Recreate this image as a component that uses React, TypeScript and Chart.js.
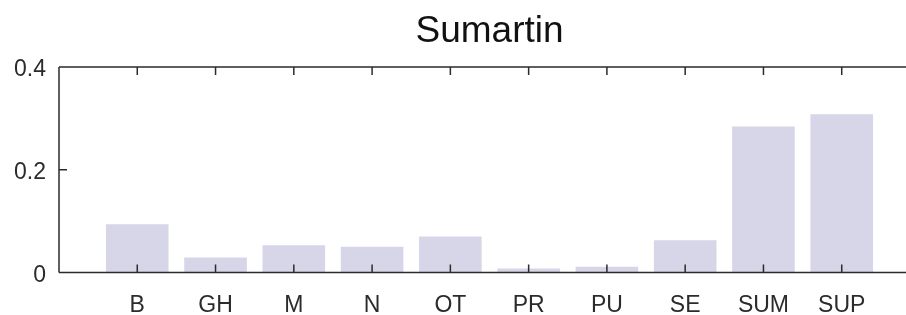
import React, { useEffect, useRef } from "react";
import { Chart, registerables } from "chart.js";

Chart.register(...registerables);

const categories = ["B", "GH", "M", "N", "OT", "PR", "PU", "SE", "SUM", "SUP"];
const values = [0.094, 0.029, 0.053, 0.050, 0.070, 0.008, 0.011, 0.063, 0.284, 0.308];
const yTicks = [0, 0.2, 0.4];
const titleText = "Sumartin";

const FONT = "'Liberation Sans', Arial, Helvetica, sans-serif";
const AXIS_COLOR = "#2b2b2b";
const BAR_COLOR = "#d7d5e8";

const axesPlugin = {
  id: "matlabAxes",
  afterDatasetsDraw(chart: any) {
    const { ctx, chartArea, scales } = chart;
    const x = scales.x;
    const y = scales.y;
    const tl = 8;
    ctx.save();
    ctx.strokeStyle = AXIS_COLOR;
    ctx.lineWidth = 1.5;
    ctx.beginPath();
    ctx.moveTo(chartArea.left, chartArea.top);
    ctx.lineTo(chartArea.left, chartArea.bottom);
    ctx.moveTo(chartArea.left, chartArea.bottom);
    ctx.lineTo(chartArea.right, chartArea.bottom);
    ctx.moveTo(chartArea.left, chartArea.top);
    ctx.lineTo(chartArea.right, chartArea.top);
    categories.forEach((_, i) => {
      const px = x.getPixelForValue(i + 1);
      ctx.moveTo(px, chartArea.bottom);
      ctx.lineTo(px, chartArea.bottom - tl);
      ctx.moveTo(px, chartArea.top);
      ctx.lineTo(px, chartArea.top + tl);
    });
    yTicks.forEach((v) => {
      const py = y.getPixelForValue(v);
      ctx.moveTo(chartArea.left, py);
      ctx.lineTo(chartArea.left + tl, py);
    });
    ctx.stroke();
    ctx.restore();
  },
};

export default function App() {
  const canvasRef = useRef<HTMLCanvasElement | null>(null);

  useEffect(() => {
    const canvas = canvasRef.current;
    if (!canvas) return;
    const chart = new Chart(canvas, {
      type: "bar",
      data: {
        datasets: [
          {
            data: values.map((v, i) => ({ x: i + 1, y: v })),
            backgroundColor: BAR_COLOR,
            borderWidth: 0,
            barPercentage: 0.8,
            categoryPercentage: 1.0,
          },
        ],
      },
      options: {
        responsive: false,
        animation: false,
        devicePixelRatio: 1,
        layout: { padding: 0 },
        plugins: {
          legend: { display: false },
          tooltip: { enabled: false },
          title: {
            display: true,
            text: titleText,
            fullSize: false,
            color: "#111111",
            font: { family: FONT, size: 37, weight: "normal", lineHeight: 1.2 },
            padding: { top: 9.6, bottom: 13 },
          },
        },
        scales: {
          x: {
            type: "linear",
            min: 0,
            max: 11,
            offset: false,
            grid: { display: false, drawTicks: false, offset: false },
            border: { display: false },
            afterBuildTicks: (s: any) => {
              s.ticks = categories.map((_, i) => ({ value: i + 1 }));
            },
            afterFit: (s: any) => {
              s.height = 42.5;
            },
            ticks: {
              autoSkip: false,
              maxRotation: 0,
              padding: 19,
              color: AXIS_COLOR,
              font: { family: FONT, size: 23 },
              callback: (v: any) => categories[Math.round(Number(v)) - 1] ?? "",
            },
          },
          y: {
            type: "linear",
            min: 0,
            max: 0.4,
            grid: { display: false, drawTicks: false },
            border: { display: false },
            afterBuildTicks: (s: any) => {
              s.ticks = yTicks.map((v) => ({ value: v }));
            },
            afterFit: (s: any) => {
              s.width = 59;
            },
            ticks: {
              padding: 13,
              labelOffset: 3,
              color: AXIS_COLOR,
              font: { family: FONT, size: 23 },
              callback: (v: any) => String(Number(Number(v).toFixed(2))),
            },
          },
        },
      },
      plugins: [axesPlugin],
    });
    return () => chart.destroy();
  }, []);

  return (
    <div
      style={{
        position: "absolute",
        left: 0,
        top: 0,
        width: 906,
        height: 315,
        overflow: "hidden",
        background: "#ffffff",
      }}
    >
      <canvas ref={canvasRef} width={920} height={315} style={{ width: 920, height: 315, display: "block" }} />
    </div>
  );
}
